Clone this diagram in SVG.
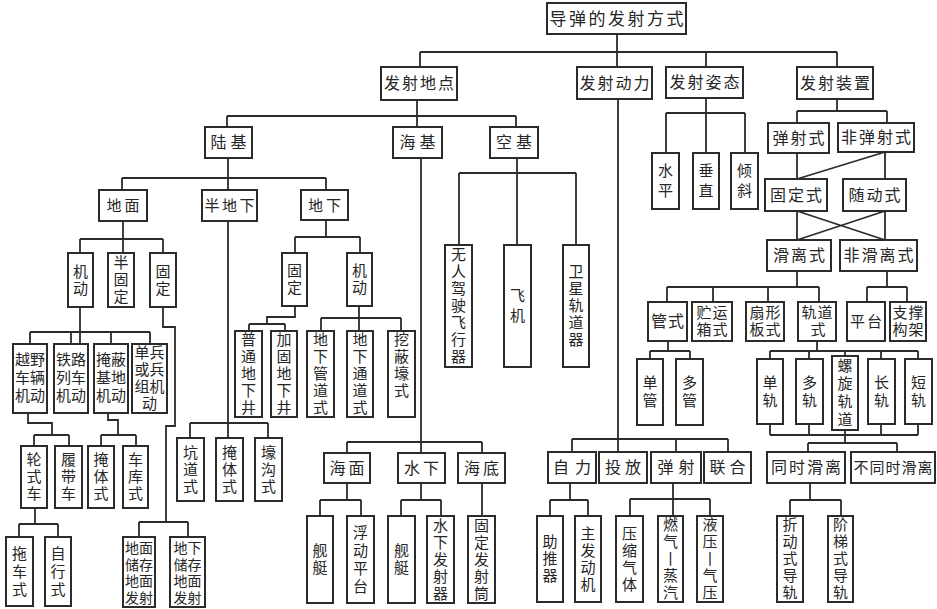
<svg xmlns="http://www.w3.org/2000/svg" width="937" height="609" viewBox="0 0 937 609">
<style>
.b{fill:#fff;stroke:#2b2b2b;stroke-width:2}
.c{fill:none;stroke:#2b2b2b;stroke-width:1.8}
text{font-family:"Liberation Sans","Noto Sans CJK SC",sans-serif;fill:#262626;text-anchor:middle}
.f17{font-size:17px;letter-spacing:2.5px}
.f16{font-size:16px}
.f15{font-size:15px}
.f14{font-size:14px}
</style>
<rect width="937" height="609" fill="#fff"/>
<g id="connectors" class="c">
<path d="M617 34V52M420 52H837M420 52V67M617 52V67M706 52V67M837 52V67"/>
<path d="M417 100V127M227 116H516M227 116V127M516 116V127"/>
<path d="M228 158V190M122 178H326M122 178V190M326 178V190"/>
<path d="M123 221V253M80 239H163M80 239V253M163 239V253"/>
<path d="M80 307V344M30 332H150M30 332V344M71 332V344M111 332V344M150 332V344"/>
<path d="M28 413V423H52V435M34 435H69M34 435V446M69 435V446"/>
<path d="M108 413V420H118V435M101 435H136M101 435V446M136 435V446"/>
<path d="M35 508V524M19 524H58M19 524V537M58 524V537"/>
<path d="M163 307V327H175V426H166V522M139 522H188M139 522V537M188 522V537"/>
<path d="M228 221V438M190 423H268M190 423V438M268 423V438"/>
<path d="M326 220V237M295 237H360M295 237V253M360 237V253"/>
<path d="M295 306V317H267V324M249 324H285M249 324V331M285 324V331"/>
<path d="M359 306V331M321 318H401M321 318V331M401 318V331"/>
<path d="M421 158V453M347 442H482M347 442V453M482 442V453"/>
<path d="M347 483V500M320 500H361M320 500V516M361 500V516"/>
<path d="M421 483V500M401 500H441M401 500V516M441 500V516"/>
<path d="M482 483V516"/>
<path d="M517 158V245M459 173H576M459 173V245M576 173V245"/>
<path d="M618 99V452M572 439H728M572 439V452M676 439V452M728 439V452"/>
<path d="M570 483V500M550 500H588M550 500V516M588 500V516"/>
<path d="M673 483V516M630 499H710M630 499V516M710 499V516"/>
<path d="M706 98V113M666 113H745M666 113V153M706 113V153M745 113V153"/>
<path d="M837 99V111M797 111H887M797 111V123M887 111V123"/>
<path d="M797 153V179M885 152V179M885 152L797 179"/>
<path d="M797 211V240M885 211V240M797 211L885 240M885 211L797 240"/>
<path d="M797 271V287M667 287H819M667 287V302M713 287V302M768 287V302M819 287V302"/>
<path d="M887 271V287M867 287H907M867 287V302M907 287V302"/>
<path d="M668 341V351M650 351H690M650 351V359M690 351V359"/>
<path d="M817 341V351M770 351H918M770 351V359M809 351V359M845 351V356M881 351V359M918 351V359"/>
<path d="M770 424V435M809 424V435M881 424V435M918 424V435M770 435H918M845 430V443M808 443H897M808 443V452M897 443V452"/>
<path d="M810 483V500M790 500H841M790 500V516M841 500V516"/>
</g>

<g id="root"><rect class="b" x="547" y="3" width="139" height="31"/><text class="f17" x="617.7" y="24.6">导弹的发射方式</text></g>
<g id="n-site"><rect class="b" x="381" y="67" width="76" height="33"/><text class="f16" x="420" y="89.3" letter-spacing="2">发射地点</text></g>
<g id="n-power"><rect class="b" x="577" y="67" width="75" height="32"/><text class="f16" x="615.5" y="88.8" letter-spacing="2">发射动力</text></g>
<g id="n-attitude"><rect class="b" x="666" y="67" width="77" height="31"/><text class="f16" x="705.5" y="88.3" letter-spacing="2">发射姿态</text></g>
<g id="n-device"><rect class="b" x="797" y="67" width="76" height="32"/><text class="f16" x="836" y="88.8" letter-spacing="2">发射装置</text></g>

<g id="n-land"><rect class="b" x="205" y="127" width="47" height="31"/><text class="f16" x="230.5" y="148.3" letter-spacing="4">陆基</text></g>
<g id="n-sea"><rect class="b" x="393" y="127" width="49" height="31"/><text class="f16" x="419.5" y="148.3" letter-spacing="4">海基</text></g>
<g id="n-air"><rect class="b" x="490" y="127" width="48" height="31"/><text class="f16" x="516" y="148.3" letter-spacing="4">空基</text></g>

<g id="n-ground"><rect class="b" x="99" y="190" width="48" height="31"/><text class="f15" x="124.5" y="211" letter-spacing="3">地面</text></g>
<g id="n-semi"><rect class="b" x="202" y="190" width="55" height="31"/><text class="f15" x="230.7" y="211" letter-spacing="2.5">半地下</text></g>
<g id="n-under"><rect class="b" x="301" y="190" width="47" height="30"/><text class="f15" x="326" y="210.5" letter-spacing="3">地下</text></g>

<g id="n-g-mobile"><rect class="b" x="68" y="253" width="25" height="54"/><text class="f15"><tspan x="80.5" y="276.9">机</tspan><tspan x="80.5" y="293.9">动</tspan></text></g>
<g id="n-g-semifixed"><rect class="b" x="108" y="253" width="26" height="54"/><text class="f15"><tspan x="121" y="268.4">半</tspan><tspan x="121" y="285.4">固</tspan><tspan x="121" y="302.4">定</tspan></text></g>
<g id="n-g-fixed"><rect class="b" x="150" y="253" width="26" height="54"/><text class="f15"><tspan x="163" y="276.9">固</tspan><tspan x="163" y="293.9">定</tspan></text></g>

<g id="n-offroad"><rect class="b" x="13" y="344" width="34" height="69"/><text class="f15"><tspan x="30" y="365.4">越野</tspan><tspan x="30" y="383.4">车辆</tspan><tspan x="30" y="401.4">机动</tspan></text></g>
<g id="n-rail"><rect class="b" x="54" y="344" width="34" height="69"/><text class="f15"><tspan x="71" y="365.4">铁路</tspan><tspan x="71" y="383.4">列车</tspan><tspan x="71" y="401.4">机动</tspan></text></g>
<g id="n-base"><rect class="b" x="94" y="344" width="34" height="69"/><text class="f15"><tspan x="111" y="365.4">掩蔽</tspan><tspan x="111" y="383.4">基地</tspan><tspan x="111" y="401.4">机动</tspan></text></g>
<g id="n-soldier"><rect class="b" x="132" y="344" width="35" height="69"/><text class="f15"><tspan x="149.5" y="358.4">单兵</tspan><tspan x="149.5" y="375.4">或兵</tspan><tspan x="149.5" y="392.4">组机</tspan><tspan x="149.5" y="409.4">动</tspan></text></g>

<g id="n-wheel"><rect class="b" x="21" y="446" width="26" height="62"/><text class="f15"><tspan x="34" y="465.4">轮</tspan><tspan x="34" y="482.4">式</tspan><tspan x="34" y="499.4">车</tspan></text></g>
<g id="n-track"><rect class="b" x="55" y="446" width="27" height="62"/><text class="f15"><tspan x="68.5" y="465.4">履</tspan><tspan x="68.5" y="482.4">带</tspan><tspan x="68.5" y="499.4">车</tspan></text></g>
<g id="n-shelter1"><rect class="b" x="88" y="446" width="26" height="62"/><text class="f15"><tspan x="101" y="465.4">掩</tspan><tspan x="101" y="482.4">体</tspan><tspan x="101" y="499.4">式</tspan></text></g>
<g id="n-garage"><rect class="b" x="123" y="446" width="25" height="62"/><text class="f15"><tspan x="135.5" y="465.4">车</tspan><tspan x="135.5" y="482.4">库</tspan><tspan x="135.5" y="499.4">式</tspan></text></g>

<g id="n-tow"><rect class="b" x="6" y="537" width="27" height="69"/><text class="f15"><tspan x="19.5" y="558.9">拖</tspan><tspan x="19.5" y="576.9">车</tspan><tspan x="19.5" y="594.9">式</tspan></text></g>
<g id="n-self"><rect class="b" x="45" y="537" width="26" height="69"/><text class="f15"><tspan x="58" y="558.9">自</tspan><tspan x="58" y="576.9">行</tspan><tspan x="58" y="594.9">式</tspan></text></g>

<g id="n-gsgl"><rect class="b" x="123" y="537" width="32" height="70"/><text class="f14"><tspan x="139" y="553">地面</tspan><tspan x="139" y="569.5">储存</tspan><tspan x="139" y="586">地面</tspan><tspan x="139" y="602.5">发射</tspan></text></g>
<g id="n-usgl"><rect class="b" x="170" y="537" width="35" height="70"/><text class="f14"><tspan x="187.5" y="553">地下</tspan><tspan x="187.5" y="569.5">储存</tspan><tspan x="187.5" y="586">地面</tspan><tspan x="187.5" y="602.5">发射</tspan></text></g>

<g id="n-tunnel"><rect class="b" x="177" y="438" width="27" height="63"/><text class="f15"><tspan x="190.5" y="457.9">坑</tspan><tspan x="190.5" y="474.9">道</tspan><tspan x="190.5" y="491.9">式</tspan></text></g>
<g id="n-shelter2"><rect class="b" x="216" y="438" width="27" height="63"/><text class="f15"><tspan x="229.5" y="457.9">掩</tspan><tspan x="229.5" y="474.9">体</tspan><tspan x="229.5" y="491.9">式</tspan></text></g>
<g id="n-trench"><rect class="b" x="255" y="438" width="27" height="63"/><text class="f15"><tspan x="268.5" y="457.9">壕</tspan><tspan x="268.5" y="474.9">沟</tspan><tspan x="268.5" y="491.9">式</tspan></text></g>

<g id="n-u-fixed"><rect class="b" x="282" y="253" width="25" height="53"/><text class="f15"><tspan x="294.5" y="276.4">固</tspan><tspan x="294.5" y="293.4">定</tspan></text></g>
<g id="n-u-mobile"><rect class="b" x="347" y="253" width="25" height="53"/><text class="f15"><tspan x="359.5" y="276.4">机</tspan><tspan x="359.5" y="293.4">动</tspan></text></g>

<g id="n-silo1"><rect class="b" x="235" y="331" width="27" height="86"/><text class="f15"><tspan x="248.5" y="345.4">普</tspan><tspan x="248.5" y="362.4">通</tspan><tspan x="248.5" y="379.4">地</tspan><tspan x="248.5" y="396.4">下</tspan><tspan x="248.5" y="413.4">井</tspan></text></g>
<g id="n-silo2"><rect class="b" x="271" y="331" width="26" height="86"/><text class="f15"><tspan x="284" y="345.4">加</tspan><tspan x="284" y="362.4">固</tspan><tspan x="284" y="379.4">地</tspan><tspan x="284" y="396.4">下</tspan><tspan x="284" y="413.4">井</tspan></text></g>
<g id="n-pipe"><rect class="b" x="307" y="331" width="27" height="86"/><text class="f15"><tspan x="320.5" y="345.4">地</tspan><tspan x="320.5" y="362.4">下</tspan><tspan x="320.5" y="379.4">管</tspan><tspan x="320.5" y="396.4">道</tspan><tspan x="320.5" y="413.4">式</tspan></text></g>
<g id="n-passage"><rect class="b" x="347" y="331" width="26" height="86"/><text class="f15"><tspan x="360" y="345.4">地</tspan><tspan x="360" y="362.4">下</tspan><tspan x="360" y="379.4">通</tspan><tspan x="360" y="396.4">道</tspan><tspan x="360" y="413.4">式</tspan></text></g>
<g id="n-dug"><rect class="b" x="388" y="331" width="27" height="86"/><text class="f15"><tspan x="401.5" y="345.4">挖</tspan><tspan x="401.5" y="362.4">蔽</tspan><tspan x="401.5" y="379.4">壕</tspan><tspan x="401.5" y="396.4">式</tspan></text></g>

<g id="n-surface"><rect class="b" x="324" y="453" width="46" height="30"/><text class="f16" x="348.5" y="473.8" letter-spacing="3">海面</text></g>
<g id="n-water"><rect class="b" x="398" y="453" width="47" height="30"/><text class="f16" x="423" y="473.8" letter-spacing="3">水下</text></g>
<g id="n-bed"><rect class="b" x="458" y="453" width="47" height="30"/><text class="f16" x="483" y="473.8" letter-spacing="3">海底</text></g>

<g id="n-ship1"><rect class="b" x="307" y="516" width="26" height="87"/><text class="f15"><tspan x="320" y="556.4">舰</tspan><tspan x="320" y="573.4">艇</tspan></text></g>
<g id="n-float"><rect class="b" x="347" y="516" width="27" height="87"/><text class="f15"><tspan x="360.5" y="537.9">浮</tspan><tspan x="360.5" y="555.9">动</tspan><tspan x="360.5" y="573.9">平</tspan><tspan x="360.5" y="591.9">台</tspan></text></g>
<g id="n-ship2"><rect class="b" x="388" y="516" width="27" height="87"/><text class="f15"><tspan x="401.5" y="556.4">舰</tspan><tspan x="401.5" y="573.4">艇</tspan></text></g>
<g id="n-uwl"><rect class="b" x="427" y="516" width="27" height="87"/><text class="f15"><tspan x="440.5" y="530.9">水</tspan><tspan x="440.5" y="547.9">下</tspan><tspan x="440.5" y="564.9">发</tspan><tspan x="440.5" y="581.9">射</tspan><tspan x="440.5" y="598.9">器</tspan></text></g>
<g id="n-tube"><rect class="b" x="468" y="516" width="27" height="87"/><text class="f15"><tspan x="481.5" y="530.9">固</tspan><tspan x="481.5" y="547.9">定</tspan><tspan x="481.5" y="564.9">发</tspan><tspan x="481.5" y="581.9">射</tspan><tspan x="481.5" y="598.9">筒</tspan></text></g>

<g id="n-uav"><rect class="b" x="445" y="245" width="27" height="122"/><text class="f15"><tspan x="458.5" y="260.4">无</tspan><tspan x="458.5" y="277.4">人</tspan><tspan x="458.5" y="294.4">驾</tspan><tspan x="458.5" y="311.4">驶</tspan><tspan x="458.5" y="328.4">飞</tspan><tspan x="458.5" y="345.4">行</tspan><tspan x="458.5" y="362.4">器</tspan></text></g>
<g id="n-plane"><rect class="b" x="504" y="245" width="27" height="122"/><text class="f15"><tspan x="517.5" y="301.4">飞</tspan><tspan x="517.5" y="321.4">机</tspan></text></g>
<g id="n-orbiter"><rect class="b" x="563" y="245" width="26" height="122"/><text class="f15"><tspan x="576" y="277.4">卫</tspan><tspan x="576" y="294.4">星</tspan><tspan x="576" y="311.4">轨</tspan><tspan x="576" y="328.4">道</tspan><tspan x="576" y="345.4">器</tspan></text></g>

<g id="n-selfp"><rect class="b" x="548" y="452" width="48" height="31"/><text class="f16" x="575" y="473.3" letter-spacing="6">自力</text></g>
<g id="n-drop"><rect class="b" x="599" y="452" width="48" height="31"/><text class="f16" x="625" y="473.3" letter-spacing="4">投放</text></g>
<g id="n-eject"><rect class="b" x="651" y="452" width="50" height="31"/><text class="f16" x="678.5" y="473.3" letter-spacing="5">弹射</text></g>
<g id="n-combo"><rect class="b" x="704" y="452" width="47" height="31"/><text class="f16" x="729.5" y="473.3" letter-spacing="4">联合</text></g>

<g id="n-booster"><rect class="b" x="537" y="516" width="26" height="86"/><text class="f15"><tspan x="550" y="547.4">助</tspan><tspan x="550" y="564.4">推</tspan><tspan x="550" y="581.4">器</tspan></text></g>
<g id="n-main"><rect class="b" x="575" y="516" width="26" height="86"/><text class="f15"><tspan x="588" y="538.9">主</tspan><tspan x="588" y="555.9">发</tspan><tspan x="588" y="572.9">动</tspan><tspan x="588" y="589.9">机</tspan></text></g>
<g id="n-gas"><rect class="b" x="616" y="516" width="27" height="86"/><text class="f15"><tspan x="629.5" y="538.9">压</tspan><tspan x="629.5" y="555.9">缩</tspan><tspan x="629.5" y="572.9">气</tspan><tspan x="629.5" y="589.9">体</tspan></text></g>
<g id="n-steam"><rect class="b" x="658" y="516" width="25" height="86"/><text class="f15"><tspan x="670.5" y="530.4">燃</tspan><tspan x="670.5" y="547.4">气</tspan><tspan x="670.5" y="564.4">丨</tspan><tspan x="670.5" y="581.4">蒸</tspan><tspan x="670.5" y="598.4">汽</tspan></text></g>
<g id="n-hydro"><rect class="b" x="697" y="516" width="26" height="86"/><text class="f15"><tspan x="710" y="530.4">液</tspan><tspan x="710" y="547.4">压</tspan><tspan x="710" y="564.4">丨</tspan><tspan x="710" y="581.4">气</tspan><tspan x="710" y="598.4">压</tspan></text></g>

<g id="n-horiz"><rect class="b" x="652" y="153" width="27" height="56"/><text class="f15"><tspan x="665.5" y="176.4">水</tspan><tspan x="665.5" y="196.4">平</tspan></text></g>
<g id="n-vert"><rect class="b" x="693" y="153" width="26" height="56"/><text class="f15"><tspan x="706" y="176.4">垂</tspan><tspan x="706" y="196.4">直</tspan></text></g>
<g id="n-tilt"><rect class="b" x="731" y="153" width="27" height="56"/><text class="f15"><tspan x="744.5" y="176.4">倾</tspan><tspan x="744.5" y="196.4">斜</tspan></text></g>

<g id="n-ej"><rect class="b" x="768" y="123" width="61" height="30"/><text class="f16" x="799.5" y="143.8" letter-spacing="2">弹射式</text></g>
<g id="n-nonej"><rect class="b" x="838" y="123" width="76" height="29"/><text class="f16" x="877" y="143.3" letter-spacing="2">非弹射式</text></g>
<g id="n-fixedt"><rect class="b" x="765" y="179" width="62" height="32"/><text class="f16" x="797" y="200.8" letter-spacing="2">固定式</text></g>
<g id="n-follow"><rect class="b" x="843" y="179" width="63" height="32"/><text class="f16" x="875.5" y="200.8" letter-spacing="2">随动式</text></g>
<g id="n-slide"><rect class="b" x="767" y="240" width="64" height="31"/><text class="f16" x="800" y="261.3" letter-spacing="2">滑离式</text></g>
<g id="n-nonslide"><rect class="b" x="840" y="240" width="77" height="31"/><text class="f16" x="879.5" y="261.3" letter-spacing="2">非滑离式</text></g>

<g id="n-tubet"><rect class="b" x="648" y="302" width="39" height="39"/><text class="f16" x="668" y="327.3" letter-spacing="1">管式</text></g>
<g id="n-box"><rect class="b" x="692" y="302" width="40" height="39"/><text class="f15"><tspan x="712.5" y="318.4" letter-spacing="1">贮运</tspan><tspan x="712.5" y="335.4" letter-spacing="1">箱式</tspan></text></g>
<g id="n-fan"><rect class="b" x="746" y="302" width="38" height="39"/><text class="f15"><tspan x="765.5" y="318.4" letter-spacing="1">扇形</tspan><tspan x="765.5" y="335.4" letter-spacing="1">板式</tspan></text></g>
<g id="n-railt"><rect class="b" x="798" y="302" width="38" height="39"/><text class="f15"><tspan x="817.5" y="318.4" letter-spacing="1">轨道</tspan><tspan x="818" y="335.4">式</tspan></text></g>
<g id="n-platform"><rect class="b" x="847" y="302" width="38" height="39"/><text class="f15" x="867" y="326.9" letter-spacing="2">平台</text></g>
<g id="n-frame"><rect class="b" x="890" y="302" width="36" height="39"/><text class="f15"><tspan x="908.5" y="318.4" letter-spacing="1">支撑</tspan><tspan x="908.5" y="335.4" letter-spacing="1">构架</tspan></text></g>

<g id="n-single"><rect class="b" x="637" y="359" width="26" height="66"/><text class="f15"><tspan x="650" y="388.4">单</tspan><tspan x="650" y="406.4">管</tspan></text></g>
<g id="n-multi"><rect class="b" x="676" y="359" width="27" height="66"/><text class="f15"><tspan x="689.5" y="388.4">多</tspan><tspan x="689.5" y="406.4">管</tspan></text></g>

<g id="n-r1"><rect class="b" x="757" y="359" width="26" height="65"/><text class="f15"><tspan x="770" y="387.9">单</tspan><tspan x="770" y="405.9">轨</tspan></text></g>
<g id="n-r2"><rect class="b" x="796" y="359" width="27" height="65"/><text class="f15"><tspan x="809.5" y="387.9">多</tspan><tspan x="809.5" y="405.9">轨</tspan></text></g>
<g id="n-r3"><rect class="b" x="832" y="356" width="26" height="74"/><text class="f15"><tspan x="845" y="371.4">螺</tspan><tspan x="845" y="389.4">旋</tspan><tspan x="845" y="407.4">轨</tspan><tspan x="845" y="425.4">道</tspan></text></g>
<g id="n-r4"><rect class="b" x="868" y="359" width="27" height="65"/><text class="f15"><tspan x="881.5" y="387.9">长</tspan><tspan x="881.5" y="405.9">轨</tspan></text></g>
<g id="n-r5"><rect class="b" x="905" y="359" width="27" height="65"/><text class="f15"><tspan x="918.5" y="387.9">短</tspan><tspan x="918.5" y="405.9">轨</tspan></text></g>

<g id="n-sim"><rect class="b" x="767" y="452" width="78" height="31"/><text class="f16" x="807" y="473.3" letter-spacing="2">同时滑离</text></g>
<g id="n-nonsim"><rect class="b" x="851" y="452" width="84" height="31"/><text class="f15" x="893.5" y="472.9" letter-spacing="1">不同时滑离</text></g>

<g id="n-fold"><rect class="b" x="777" y="516" width="26" height="86"/><text class="f15"><tspan x="790" y="530.4">折</tspan><tspan x="790" y="547.4">动</tspan><tspan x="790" y="564.4">式</tspan><tspan x="790" y="581.4">导</tspan><tspan x="790" y="598.4">轨</tspan></text></g>
<g id="n-step"><rect class="b" x="828" y="516" width="25" height="86"/><text class="f15"><tspan x="840.5" y="530.4">阶</tspan><tspan x="840.5" y="547.4">梯</tspan><tspan x="840.5" y="564.4">式</tspan><tspan x="840.5" y="581.4">导</tspan><tspan x="840.5" y="598.4">轨</tspan></text></g>
</svg>
